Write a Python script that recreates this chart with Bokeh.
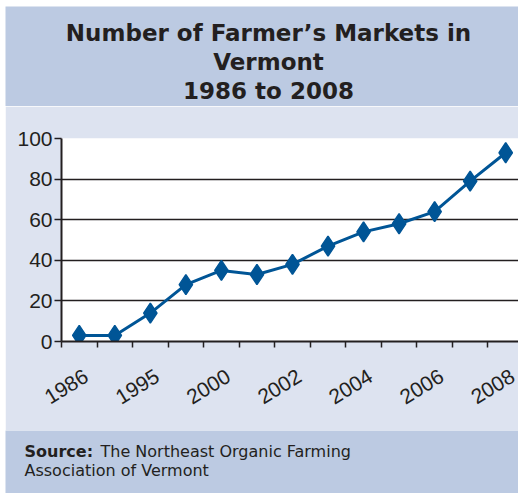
import numpy as np
from bokeh.plotting import figure
from bokeh.layouts import column
from bokeh.models import Range1d, FixedTicker
from bokeh.core.properties import value
from bokeh.embed import file_html
from bokeh.resources import INLINE

# ---- data ----
title_lines = ["Number of Farmer’s Markets in", "Vermont", "1986 to 2008"]
year_labels = ["1986", "", "1995", "", "2000", "", "2002", "", "2004", "", "2006", "", "2008"]
markets = [3, 3, 14, 28, 35, 33, 38, 47, 54, 58, 64, 79, 93]
y_ticks = [0, 20, 40, 60, 80, 100]
source_bold = "Source:"
source_lines = ["The Northeast Organic Farming", "Association of Vermont"]

TITLE_BG = "#bccae2"
PANEL_BG = "#dde3f0"
INK = "#231f20"
BLUE = "#005596"

# ---- title band ----
t = figure(width=513, height=100, x_range=Range1d(0, 513), y_range=Range1d(0, 100),
           x_axis_type=None, y_axis_type=None, toolbar_location=None,
           output_backend="svg", min_border=0, background_fill_color=TITLE_BG,
           border_fill_color=TITLE_BG, outline_line_color=None)
t.frame_align = False
t.text(x=[263, 263, 263], y=[74, 45, 16], text=title_lines,
       text_font=value("DejaVu Sans"), text_font_style="bold", text_font_size="23px",
       text_align="center", text_baseline="middle", text_color=INK)
t.margin = (6, 0, 0, 5)

# ---- chart ----
p = figure(width=513, height=324, x_range=Range1d(0, 12.86), y_range=Range1d(0, 100),
           toolbar_location=None, output_backend="svg",
           min_border_left=56, min_border_right=0, min_border_top=32, min_border_bottom=89,
           background_fill_color="white", border_fill_color=PANEL_BG, outline_line_color=None)
p.frame_align = False
p.margin = (0, 0, 0, 5)

x = np.arange(len(markets)) + 0.5
p.line(x, markets, line_color=BLUE, line_width=3)
p.scatter(x, markets, marker="diamond", size=20, fill_color=BLUE, line_color=BLUE, line_width=1.5)

label_ticks = [float(x[i]) + 0.2 for i, l in enumerate(year_labels) if l]
overrides = {float(x[i]) + 0.2: l for i, l in enumerate(year_labels) if l}

xa = p.xaxis[0]
xa.ticker = FixedTicker(ticks=label_ticks, minor_ticks=list(range(len(markets) + 1)))
xa.major_label_overrides = overrides
xa.major_tick_out = 0
xa.major_tick_in = 0
xa.minor_tick_out = 6
xa.minor_tick_in = 0
xa.minor_tick_line_color = INK
xa.minor_tick_line_width = 1.5
xa.axis_line_color = INK
xa.axis_line_width = 2
xa.major_label_orientation = 0.55
xa.major_label_standoff = 27
xa.major_label_text_font = "Liberation Sans"
xa.major_label_text_font_size = "21px"
xa.major_label_text_color = INK

ya = p.yaxis[0]
ya.ticker = FixedTicker(ticks=y_ticks)
ya.major_tick_out = 7
ya.major_tick_in = 0
ya.major_tick_line_color = INK
ya.major_tick_line_width = 1.5
ya.minor_tick_out = 0
ya.minor_tick_in = 0
ya.axis_line_color = INK
ya.axis_line_width = 2
ya.major_label_standoff = 2
ya.major_label_text_font = "Liberation Sans"
ya.major_label_text_font_size = "21px"
ya.major_label_text_color = INK

p.xgrid.visible = False
p.ygrid.ticker = FixedTicker(ticks=y_ticks)
p.ygrid.grid_line_color = INK
p.ygrid.grid_line_width = 1.3

# ---- source band ----
s = figure(width=513, height=63, x_range=Range1d(0, 513), y_range=Range1d(0, 63),
           x_axis_type=None, y_axis_type=None, toolbar_location=None,
           output_backend="svg", min_border=0, background_fill_color=TITLE_BG,
           border_fill_color=TITLE_BG, outline_line_color=None)
s.frame_align = False
s.margin = (0, 0, 0, 5)
s.text(x=[19], y=[42], text=[source_bold], text_font=value("DejaVu Sans"),
       text_font_style="bold", text_font_size="16px", text_align="left",
       text_baseline="middle", text_color=INK)
s.text(x=[95], y=[42], text=[source_lines[0]], text_font=value("DejaVu Sans"),
       text_font_size="16px", text_align="left", text_baseline="middle", text_color=INK)
s.text(x=[19], y=[23], text=[source_lines[1]], text_font=value("DejaVu Sans"),
       text_font_size="16px", text_align="left", text_baseline="middle", text_color=INK)

layout = column(t, p, s, spacing=0)
open("out.html", "w").write(file_html(layout, INLINE))
